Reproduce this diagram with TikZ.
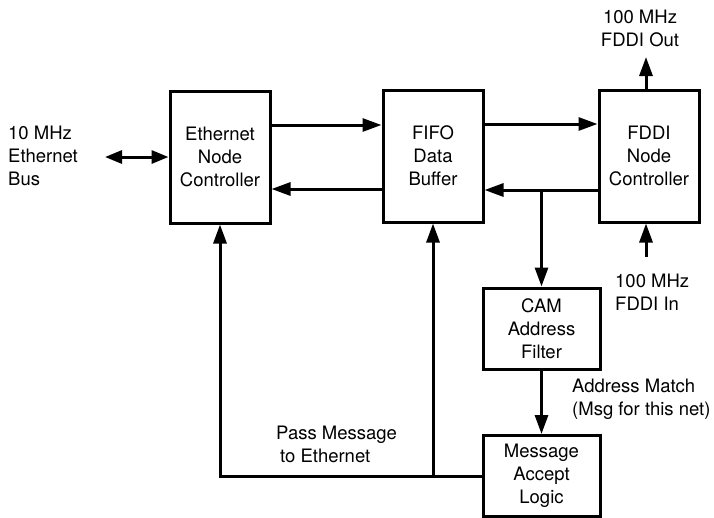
\documentclass[tikz,border=0pt]{standalone}
\usepackage{fontspec}
\setmainfont{TeX Gyre Heros}
\usetikzlibrary{arrows.meta}
\tikzset{
  blk/.style={draw, line width=3pt, minimum width=100pt, minimum height=132pt, align=center, inner sep=0pt},
  smallblk/.style={blk, minimum width=117pt, minimum height=81pt},
  lbl/.style={align=left, inner sep=0pt},
  arr/.style={line width=3pt, -{Triangle[length=19pt,width=13pt]}},
  darr/.style={line width=3pt, {Triangle[length=17pt,width=13pt]}-{Triangle[length=17pt,width=13pt]}}
}
\begin{document}
\begin{tikzpicture}[x=1pt,y=-1pt,font=\fontsize{18.5}{23}\selectfont]
\useasboundingbox (0,0) rectangle (714,517);
\node[blk] (enc) at (220,157) {Ethernet\\Node\\Controller};
\node[blk] (fifo) at (433,156) {FIFO\\Data\\Buffer};
\node[blk] (fddi) at (649,156) {FDDI\\Node\\Controller};
\node[smallblk] (cam) at (541.5,328.5) {CAM\\Address\\Filter};
\node[smallblk] (mal) at (541.5,476) {Message\\Accept\\Logic};

\node[lbl, anchor=west] (buslbl) at (8,156) {10 MHz\\Ethernet\\Bus};
\node[lbl, align=center] (outlbl) at (640,28) {100 MHz\\FDDI Out};
\node[lbl, anchor=west] (inlbl) at (615,292) {100 MHz\\FDDI In};
\node[lbl, anchor=west] (amlbl) at (572,399) {Address Match\\(Msg for this net)};
\node[lbl, anchor=west] (pmlbl) at (276,444) {Pass Message\\\hspace*{4pt}to Ethernet};

\coordinate (bus) at (105,157);
\coordinate (fout) at (646,57);
\coordinate (fin) at (646,257);

\draw[darr] (bus) -- (enc.west);
\draw[arr] ([yshift=32pt]enc.east) -- ([yshift=32pt]enc.east -| fifo.west);
\draw[arr] ([yshift=-33pt]fifo.west) -- ([yshift=-33pt]fifo.west -| enc.east);
\draw[arr] ([yshift=32pt]fifo.east) -- ([yshift=32pt]fifo.east -| fddi.west);
\draw[arr] ([yshift=-34pt]fddi.west) -- ([yshift=-34pt]fddi.west -| fifo.east);
\coordinate (br) at ([yshift=-34pt]fddi.west -| cam.north);
\draw[arr] (br) -- (cam.north);
\draw[arr] (fout |- fddi.north) -- (fout);
\draw[arr] (fin) -- (fin |- fddi.south);
\draw[arr] (cam.south) -- (mal.north);
\draw[arr] (mal.west) -| (enc.south);
\coordinate (jn) at (fifo.south |- mal.west);
\draw[arr] (jn) -- (fifo.south);
\end{tikzpicture}
\end{document}
